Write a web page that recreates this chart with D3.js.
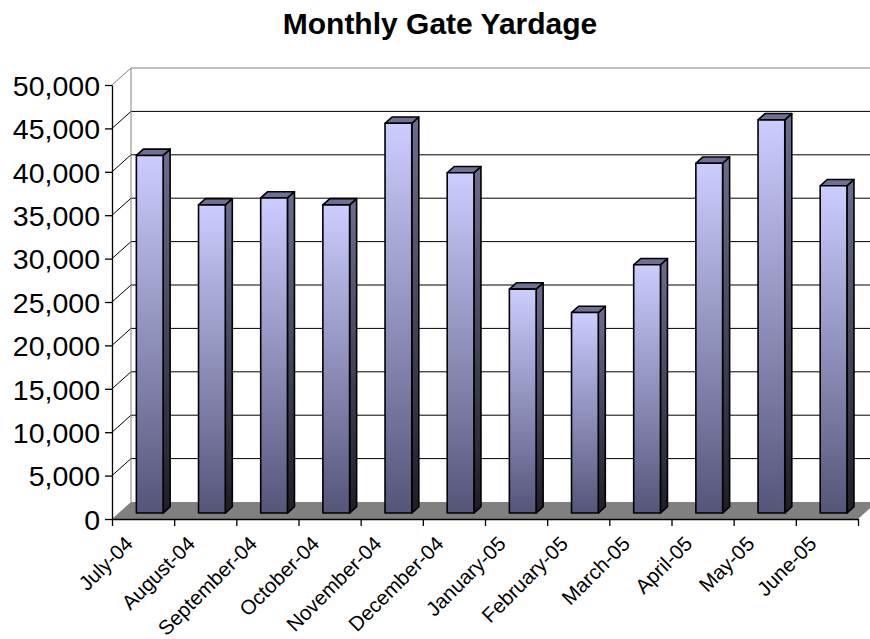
<!DOCTYPE html>
<html>

<head>
    <script src="https://d3js.org/d3.v7.min.js"></script>
    <style>
        body { margin: 0; background: #fff; }
        text { font-family: "Liberation Sans", Arial, sans-serif; }
    </style>
</head>

<body>
    <svg id="chart" width="870" height="639"></svg>
    <script>
        // data
        const months = ["July-04", "August-04", "September-04", "October-04", "November-04", "December-04",
            "January-05", "February-05", "March-05", "April-05", "May-05", "June-05"]
        const yardage = [41200, 35500, 36300, 35500, 44900, 39200, 25800, 23100, 28600, 40300, 45300, 37700]
        const yTicks = [0, 5000, 10000, 15000, 20000, 25000, 30000, 35000, 40000, 45000, 50000]

        const svg = d3.select("#chart")

        // plot box (front plane) and 3d depth offset
        const plotLeft = 112, plotRight = 858, plotTop = 85, plotBottom = 519
        const DX = 19, DY = -17
        const zFront = 0.35, zBack = 0.72

        const x = d3.scaleBand().domain(months).range([plotLeft, plotRight]).padding(0)
        const y = d3.scaleLinear().domain([0, 50000]).range([plotBottom, plotTop])
        const xIdx = d3.scaleLinear().domain([0, months.length]).range([plotLeft, plotRight])

        const defs = svg.append("defs")
        const gFront = defs.append("linearGradient").attr("id", "front").attr("x1", 0).attr("y1", 0).attr("x2", 0).attr("y2", 1)
        gFront.append("stop").attr("offset", 0).attr("stop-color", "#ccccff")
        gFront.append("stop").attr("offset", 1).attr("stop-color", "#55557a")
        const gSide = defs.append("linearGradient").attr("id", "side").attr("x1", 0).attr("y1", 0).attr("x2", 0).attr("y2", 1)
        gSide.append("stop").attr("offset", 0).attr("stop-color", "#6c6c90")
        gSide.append("stop").attr("offset", 1).attr("stop-color", "#1e1e28")

        // floor
        svg.append("path")
            .attr("d", `M${plotLeft},${plotBottom} L${plotRight},${plotBottom} L${plotRight + DX},${plotBottom + DY} L${plotLeft + DX},${plotBottom + DY} Z`)
            .attr("fill", "#808080")

        // back wall gridlines
        svg.append("g").selectAll("line")
            .data(yTicks.slice(1))
            .join("line")
            .attr("x1", plotLeft + DX).attr("x2", plotRight + DX)
            .attr("y1", d => y(d) + DY).attr("y2", d => y(d) + DY)
            .attr("stroke", d => d == 50000 ? "#808080" : "#000")
            .attr("stroke-width", 1)

        // side wall diagonals
        svg.append("g").selectAll("line")
            .data(yTicks.slice(1))
            .join("line")
            .attr("x1", plotLeft).attr("x2", plotLeft + DX)
            .attr("y1", d => y(d)).attr("y2", d => y(d) + DY)
            .attr("stroke", d => d == 50000 ? "#808080" : "#000")
            .attr("stroke-width", 1)

        // back wall left edge
        svg.append("line")
            .attr("x1", plotLeft + DX).attr("x2", plotLeft + DX)
            .attr("y1", y(50000) + DY).attr("y2", plotBottom + DY)
            .attr("stroke", "#808080")

        // bars
        const barW = x.bandwidth() * 0.43
        const ox = DX * zFront, oy = DY * zFront
        const dx = DX * (zBack - zFront), dy = DY * (zBack - zFront)
        const bars = svg.append("g").selectAll("g")
            .data(months.map((m, i) => ({ m, v: yardage[i] })))
            .join("g")
            .attr("stroke", "#000").attr("stroke-width", 1.6).attr("stroke-linejoin", "round")

        bars.each(function (d) {
            const g = d3.select(this)
            const x0 = x(d.m) + (x.bandwidth() - barW) / 2 + ox
            const x1 = x0 + barW
            const yb = y(0) + oy
            const yt = y(d.v) + oy
            g.append("path")
                .attr("d", `M${x1},${yt} L${x1 + dx},${yt + dy} L${x1 + dx},${yb + dy} L${x1},${yb} Z`)
                .attr("fill", "url(#side)")
            g.append("path")
                .attr("d", `M${x0},${yt} L${x0 + dx},${yt + dy} L${x1 + dx},${yt + dy} L${x1},${yt} Z`)
                .attr("fill", "#707094")
            g.append("rect")
                .attr("x", x0).attr("y", yt)
                .attr("width", barW).attr("height", yb - yt)
                .attr("fill", "url(#front)")
        })

        // y axis
        svg.append("g")
            .attr("transform", `translate(${plotLeft},0)`)
            .call(d3.axisLeft(y).tickValues(yTicks).tickFormat(d3.format(",")).tickSize(7).tickSizeOuter(0).tickPadding(5))
            .call(g => g.selectAll("text").attr("font-size", 28.5).attr("font-family", "Liberation Sans, Arial, sans-serif").attr("fill", "#000").attr("dy", "0.36em"))
            .call(g => g.selectAll("line, path").attr("stroke", "#000").attr("stroke-width", 1.3))

        // x axis
        svg.append("g")
            .attr("transform", `translate(0,${plotBottom})`)
            .call(d3.axisBottom(xIdx).tickValues(d3.range(months.length + 1)).tickFormat("").tickSize(7).tickSizeOuter(0))
            .call(g => g.selectAll("line, path").attr("stroke", "#000").attr("stroke-width", 1.3))

        svg.append("g").selectAll("text")
            .data(months)
            .join("text")
            .attr("transform", d => `translate(${x(d) + x.bandwidth() / 2 - 9},${545}) rotate(-45)`)
            .attr("text-anchor", "end")
            .attr("font-size", 20.5)
            .attr("fill", "#000")
            .text(d => d)

        // title
        svg.append("text")
            .attr("x", 440).attr("y", 34)
            .attr("text-anchor", "middle")
            .attr("font-size", 30)
            .attr("font-weight", "bold")
            .attr("fill", "#000")
            .text("Monthly Gate Yardage")
    </script>
</body>

</html>
